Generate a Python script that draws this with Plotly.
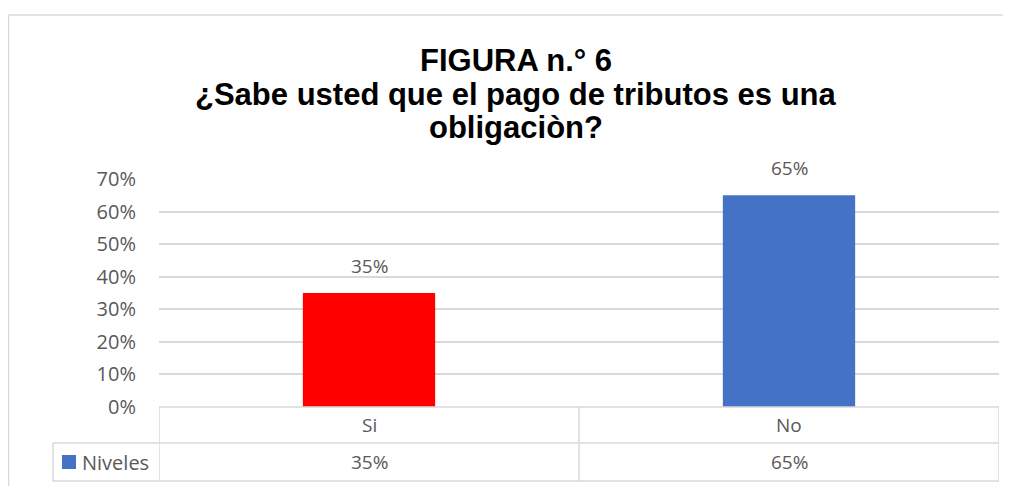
import plotly.graph_objects as go

# ---- data ----
categories = ["Si", "No"]
values = [0.35, 0.65]
bar_colors = ["#FF0000", "#4472C4"]
series_name = "Niveles"
legend_color = "#4472C4"
title_lines = ["FIGURA n.° 6", "¿Sabe usted que el pago de tributos es una", "obligaciòn?"]
y_tick_values = [0, 0.1, 0.2, 0.3, 0.4, 0.5, 0.6, 0.7]
y_tick_labels = ["0%", "10%", "20%", "30%", "40%", "50%", "60%", "70%"]

# ---- layout geometry (screen pixels; page body adds an 8px offset) ----
OFF = 8
SW, SH = 1011, 486
W, H = SW - OFF, SH - OFF
L, R, T, B = 159, 999, 179, 407
GRID = "#D9D9D9"
TXT = "#595959"
FONT = "Open Sans"


def px_x(x):
    return (x - L) / (R - L)


def px_y(y):
    return (B - y) / (B - T)


fig = go.Figure()
fig.add_trace(go.Bar(
    x=categories, y=values, name=series_name,
    marker=dict(color=bar_colors, line=dict(width=0)),
    width=0.315, showlegend=False, hoverinfo="skip",
))

annotations = []
# data labels
for c, v in zip(categories, values):
    annotations.append(dict(
        x=c, y=v, xref="x", yref="y", text=f"{round(v*100)}%",
        showarrow=False, yanchor="bottom", yshift=12,
        font=dict(family=FONT, size=19, color=TXT)))

# title lines
title_y = [60, 94, 127]
for t, yy in zip(title_lines, title_y):
    annotations.append(dict(
        x=px_x(516), y=px_y(yy), xref="paper", yref="paper", text=f"<b>{t}</b>",
        showarrow=False, xanchor="center", yanchor="middle",
        font=dict(family="Liberation Sans, Arial", size=31, color="#000000")))

# table: header row (categories) and value row
row1_y, row2_y = 425, 462
for i, (c, v) in enumerate(zip(categories, values)):
    annotations.append(dict(
        x=i, y=px_y(row1_y), xref="x", yref="paper", text=c, showarrow=False,
        yanchor="middle", font=dict(family=FONT, size=19, color=TXT)))
    annotations.append(dict(
        x=i, y=px_y(row2_y), xref="x", yref="paper", text=f"{round(v*100)}%",
        showarrow=False, yanchor="middle", font=dict(family=FONT, size=19, color=TXT)))
annotations.append(dict(
    x=px_x(80), y=px_y(row2_y), xref="paper", yref="paper", text=series_name,
    showarrow=False, xanchor="left", yanchor="middle",
    font=dict(family=FONT, size=20, color=TXT)))

shapes = []
line = dict(color=GRID, width=1.5)
n = len(categories)
# horizontal table lines
shapes.append(dict(type="line", xref="paper", yref="paper", x0=0, x1=1,
                   y0=px_y(407), y1=px_y(407), line=line))
for yy in (443, 481):
    shapes.append(dict(type="line", xref="paper", yref="paper", x0=px_x(53), x1=1,
                       y0=px_y(yy), y1=px_y(yy), line=line))
# vertical category borders
for i in range(n + 1):
    shapes.append(dict(type="line", xref="x", yref="paper", x0=i - 0.5, x1=i - 0.5,
                       y0=px_y(407), y1=px_y(481), line=line))
# legend cell left border
shapes.append(dict(type="line", xref="paper", yref="paper", x0=px_x(53), x1=px_x(53),
                   y0=px_y(443), y1=px_y(481), line=line))
# legend key square
shapes.append(dict(type="rect", xref="paper", yref="paper", x0=px_x(62), x1=px_x(76),
                   y0=px_y(469), y1=px_y(455), fillcolor=legend_color, line=dict(width=0)))
# chart outer border (top and left)
shapes.append(dict(type="line", xref="paper", yref="paper", x0=px_x(8.5), x1=px_x(SW),
                   y0=px_y(15), y1=px_y(15), line=line))
shapes.append(dict(type="line", xref="paper", yref="paper", x0=px_x(8.5), x1=px_x(8.5),
                   y0=px_y(15), y1=px_y(SH), line=line))

fig.update_layout(
    width=W, height=H,
    margin=dict(l=L - OFF, r=SW - R, t=T - OFF, b=SH - B, pad=0),
    paper_bgcolor="white", plot_bgcolor="white",
    bargap=0.685,
    annotations=annotations, shapes=shapes,
    xaxis=dict(showticklabels=False, showgrid=False, zeroline=False, showline=False,
               range=[-0.5, n - 0.5], fixedrange=True),
    yaxis=dict(range=[0, 0.7], tickvals=y_tick_values, ticktext=y_tick_labels,
               showgrid=True, gridcolor=GRID, gridwidth=1.5, zeroline=False, showline=False,
               ticklabelstandoff=22, tickfont=dict(family=FONT, size=20, color=TXT),
               fixedrange=True),
    showlegend=False,
)

fig.write_html("out.html")
